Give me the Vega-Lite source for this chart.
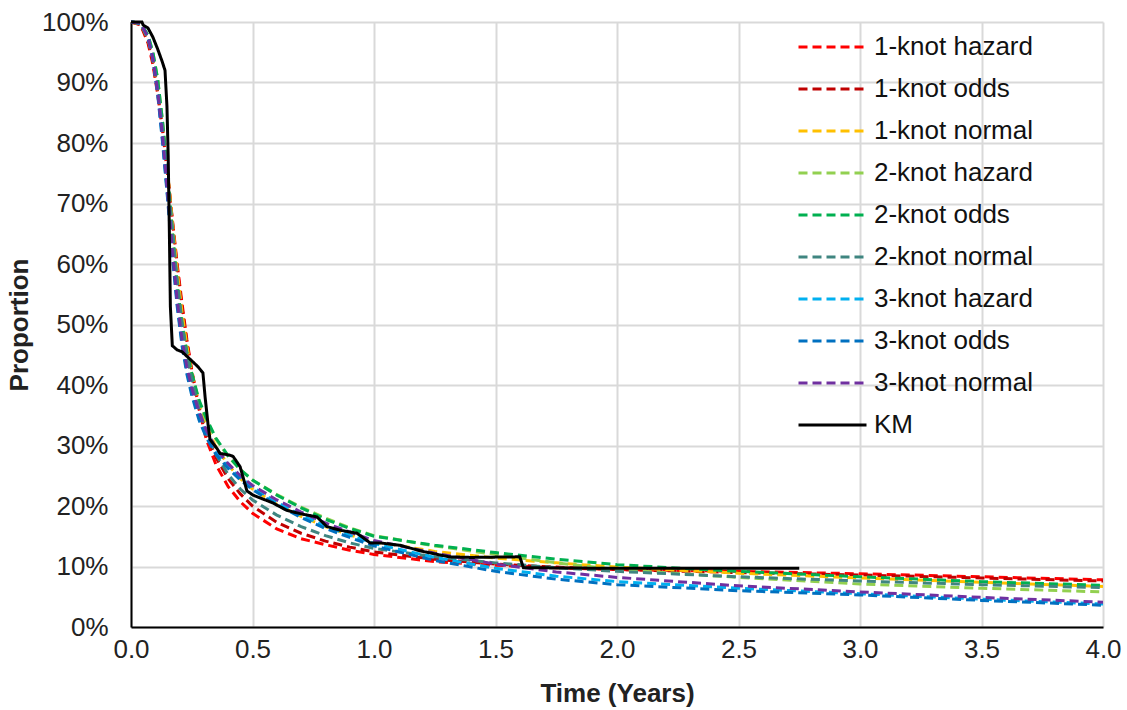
{
"$schema": "https://vega.github.io/schema/vega-lite/v6.json",
"width": 972, "height": 605,
"autosize": {"type": "none"},
"padding": {"left": 131, "top": 22, "right": 24, "bottom": 83},
"background": "white",
"config": {
  "view": {"stroke": null},
  "font": "Liberation Sans",
  "legend": {"orient": "none", "legendX": 666, "legendY": 10, "symbolType": "stroke", "symbolSize": 4624, "symbolStrokeWidth": 3, "labelFontSize": 26, "labelFont": "Liberation Sans", "labelColor": "#111111", "labelOffset": 6, "rowPadding": 12, "clipHeight": 30, "padding": 0, "labelLimit": 400}
},
"data": {"values": [
{"m":"1-knot hazard","t":0,"p":1.0},{"m":"1-knot hazard","t":0.04,"p":0.995},{"m":"1-knot hazard","t":0.07,"p":0.965},{"m":"1-knot hazard","t":0.09,"p":0.93},{"m":"1-knot hazard","t":0.11,"p":0.88},{"m":"1-knot hazard","t":0.13,"p":0.82},{"m":"1-knot hazard","t":0.15,"p":0.75},{"m":"1-knot hazard","t":0.17,"p":0.675},{"m":"1-knot hazard","t":0.19,"p":0.6},{"m":"1-knot hazard","t":0.21,"p":0.535},{"m":"1-knot hazard","t":0.23,"p":0.475},{"m":"1-knot hazard","t":0.25,"p":0.425},{"m":"1-knot hazard","t":0.28,"p":0.36},{"m":"1-knot hazard","t":0.31,"p":0.31},{"m":"1-knot hazard","t":0.35,"p":0.268},{"m":"1-knot hazard","t":0.4,"p":0.232},{"m":"1-knot hazard","t":0.45,"p":0.207},{"m":"1-knot hazard","t":0.5,"p":0.188},{"m":"1-knot hazard","t":0.6,"p":0.162},{"m":"1-knot hazard","t":0.7,"p":0.146},{"m":"1-knot hazard","t":0.8,"p":0.136},{"m":"1-knot hazard","t":0.9,"p":0.127},{"m":"1-knot hazard","t":1.0,"p":0.12},{"m":"1-knot hazard","t":1.25,"p":0.108},{"m":"1-knot hazard","t":1.5,"p":0.102},{"m":"1-knot hazard","t":1.75,"p":0.098},{"m":"1-knot hazard","t":2.0,"p":0.095},{"m":"1-knot hazard","t":2.5,"p":0.092},{"m":"1-knot hazard","t":3.0,"p":0.088},{"m":"1-knot hazard","t":3.5,"p":0.083},{"m":"1-knot hazard","t":4.0,"p":0.078},
{"m":"1-knot odds","t":0,"p":1.0},{"m":"1-knot odds","t":0.04,"p":0.996},{"m":"1-knot odds","t":0.07,"p":0.968},{"m":"1-knot odds","t":0.09,"p":0.935},{"m":"1-knot odds","t":0.11,"p":0.885},{"m":"1-knot odds","t":0.13,"p":0.825},{"m":"1-knot odds","t":0.15,"p":0.752},{"m":"1-knot odds","t":0.17,"p":0.672},{"m":"1-knot odds","t":0.19,"p":0.595},{"m":"1-knot odds","t":0.21,"p":0.528},{"m":"1-knot odds","t":0.23,"p":0.47},{"m":"1-knot odds","t":0.25,"p":0.422},{"m":"1-knot odds","t":0.28,"p":0.365},{"m":"1-knot odds","t":0.31,"p":0.32},{"m":"1-knot odds","t":0.35,"p":0.28},{"m":"1-knot odds","t":0.4,"p":0.245},{"m":"1-knot odds","t":0.45,"p":0.22},{"m":"1-knot odds","t":0.5,"p":0.2},{"m":"1-knot odds","t":0.6,"p":0.173},{"m":"1-knot odds","t":0.7,"p":0.155},{"m":"1-knot odds","t":0.8,"p":0.142},{"m":"1-knot odds","t":0.9,"p":0.132},{"m":"1-knot odds","t":1.0,"p":0.124},{"m":"1-knot odds","t":1.25,"p":0.112},{"m":"1-knot odds","t":1.5,"p":0.104},{"m":"1-knot odds","t":1.75,"p":0.099},{"m":"1-knot odds","t":2.0,"p":0.095},{"m":"1-knot odds","t":2.5,"p":0.09},{"m":"1-knot odds","t":3.0,"p":0.086},{"m":"1-knot odds","t":3.5,"p":0.081},{"m":"1-knot odds","t":4.0,"p":0.076},
{"m":"1-knot normal","t":0,"p":1.0},{"m":"1-knot normal","t":0.04,"p":0.997},{"m":"1-knot normal","t":0.07,"p":0.972},{"m":"1-knot normal","t":0.09,"p":0.94},{"m":"1-knot normal","t":0.11,"p":0.89},{"m":"1-knot normal","t":0.13,"p":0.83},{"m":"1-knot normal","t":0.15,"p":0.755},{"m":"1-knot normal","t":0.17,"p":0.67},{"m":"1-knot normal","t":0.19,"p":0.59},{"m":"1-knot normal","t":0.21,"p":0.52},{"m":"1-knot normal","t":0.23,"p":0.465},{"m":"1-knot normal","t":0.25,"p":0.42},{"m":"1-knot normal","t":0.28,"p":0.37},{"m":"1-knot normal","t":0.31,"p":0.332},{"m":"1-knot normal","t":0.35,"p":0.297},{"m":"1-knot normal","t":0.4,"p":0.268},{"m":"1-knot normal","t":0.45,"p":0.245},{"m":"1-knot normal","t":0.5,"p":0.228},{"m":"1-knot normal","t":0.6,"p":0.203},{"m":"1-knot normal","t":0.7,"p":0.183},{"m":"1-knot normal","t":0.8,"p":0.166},{"m":"1-knot normal","t":0.9,"p":0.152},{"m":"1-knot normal","t":1.0,"p":0.141},{"m":"1-knot normal","t":1.25,"p":0.125},{"m":"1-knot normal","t":1.5,"p":0.114},{"m":"1-knot normal","t":1.75,"p":0.106},{"m":"1-knot normal","t":2.0,"p":0.099},{"m":"1-knot normal","t":2.5,"p":0.089},{"m":"1-knot normal","t":3.0,"p":0.081},{"m":"1-knot normal","t":3.5,"p":0.074},{"m":"1-knot normal","t":4.0,"p":0.067},
{"m":"2-knot hazard","t":0,"p":1.0},{"m":"2-knot hazard","t":0.04,"p":0.998},{"m":"2-knot hazard","t":0.07,"p":0.978},{"m":"2-knot hazard","t":0.09,"p":0.95},{"m":"2-knot hazard","t":0.11,"p":0.905},{"m":"2-knot hazard","t":0.13,"p":0.835},{"m":"2-knot hazard","t":0.15,"p":0.75},{"m":"2-knot hazard","t":0.17,"p":0.655},{"m":"2-knot hazard","t":0.19,"p":0.568},{"m":"2-knot hazard","t":0.21,"p":0.5},{"m":"2-knot hazard","t":0.23,"p":0.452},{"m":"2-knot hazard","t":0.25,"p":0.418},{"m":"2-knot hazard","t":0.28,"p":0.373},{"m":"2-knot hazard","t":0.31,"p":0.343},{"m":"2-knot hazard","t":0.35,"p":0.31},{"m":"2-knot hazard","t":0.4,"p":0.282},{"m":"2-knot hazard","t":0.45,"p":0.26},{"m":"2-knot hazard","t":0.5,"p":0.243},{"m":"2-knot hazard","t":0.6,"p":0.219},{"m":"2-knot hazard","t":0.7,"p":0.198},{"m":"2-knot hazard","t":0.8,"p":0.18},{"m":"2-knot hazard","t":0.9,"p":0.164},{"m":"2-knot hazard","t":1.0,"p":0.151},{"m":"2-knot hazard","t":1.25,"p":0.134},{"m":"2-knot hazard","t":1.5,"p":0.12},{"m":"2-knot hazard","t":1.75,"p":0.106},{"m":"2-knot hazard","t":2.0,"p":0.095},{"m":"2-knot hazard","t":2.5,"p":0.082},{"m":"2-knot hazard","t":3.0,"p":0.071},{"m":"2-knot hazard","t":3.5,"p":0.064},{"m":"2-knot hazard","t":4.0,"p":0.058},
{"m":"2-knot odds","t":0,"p":1.0},{"m":"2-knot odds","t":0.04,"p":0.998},{"m":"2-knot odds","t":0.07,"p":0.978},{"m":"2-knot odds","t":0.09,"p":0.95},{"m":"2-knot odds","t":0.11,"p":0.905},{"m":"2-knot odds","t":0.13,"p":0.835},{"m":"2-knot odds","t":0.15,"p":0.75},{"m":"2-knot odds","t":0.17,"p":0.655},{"m":"2-knot odds","t":0.19,"p":0.565},{"m":"2-knot odds","t":0.21,"p":0.5},{"m":"2-knot odds","t":0.23,"p":0.455},{"m":"2-knot odds","t":0.25,"p":0.42},{"m":"2-knot odds","t":0.28,"p":0.375},{"m":"2-knot odds","t":0.31,"p":0.345},{"m":"2-knot odds","t":0.35,"p":0.312},{"m":"2-knot odds","t":0.4,"p":0.283},{"m":"2-knot odds","t":0.45,"p":0.26},{"m":"2-knot odds","t":0.5,"p":0.243},{"m":"2-knot odds","t":0.6,"p":0.218},{"m":"2-knot odds","t":0.7,"p":0.197},{"m":"2-knot odds","t":0.8,"p":0.178},{"m":"2-knot odds","t":0.9,"p":0.163},{"m":"2-knot odds","t":1.0,"p":0.15},{"m":"2-knot odds","t":1.25,"p":0.135},{"m":"2-knot odds","t":1.5,"p":0.123},{"m":"2-knot odds","t":1.75,"p":0.112},{"m":"2-knot odds","t":2.0,"p":0.103},{"m":"2-knot odds","t":2.5,"p":0.092},{"m":"2-knot odds","t":3.0,"p":0.083},{"m":"2-knot odds","t":3.5,"p":0.075},{"m":"2-knot odds","t":4.0,"p":0.069},
{"m":"2-knot normal","t":0,"p":1.0},{"m":"2-knot normal","t":0.04,"p":0.997},{"m":"2-knot normal","t":0.07,"p":0.972},{"m":"2-knot normal","t":0.09,"p":0.94},{"m":"2-knot normal","t":0.11,"p":0.89},{"m":"2-knot normal","t":0.13,"p":0.825},{"m":"2-knot normal","t":0.15,"p":0.745},{"m":"2-knot normal","t":0.17,"p":0.66},{"m":"2-knot normal","t":0.19,"p":0.575},{"m":"2-knot normal","t":0.21,"p":0.505},{"m":"2-knot normal","t":0.23,"p":0.45},{"m":"2-knot normal","t":0.25,"p":0.41},{"m":"2-knot normal","t":0.28,"p":0.36},{"m":"2-knot normal","t":0.31,"p":0.322},{"m":"2-knot normal","t":0.35,"p":0.285},{"m":"2-knot normal","t":0.4,"p":0.252},{"m":"2-knot normal","t":0.45,"p":0.228},{"m":"2-knot normal","t":0.5,"p":0.21},{"m":"2-knot normal","t":0.6,"p":0.185},{"m":"2-knot normal","t":0.7,"p":0.166},{"m":"2-knot normal","t":0.8,"p":0.151},{"m":"2-knot normal","t":0.9,"p":0.139},{"m":"2-knot normal","t":1.0,"p":0.13},{"m":"2-knot normal","t":1.25,"p":0.116},{"m":"2-knot normal","t":1.5,"p":0.106},{"m":"2-knot normal","t":1.75,"p":0.098},{"m":"2-knot normal","t":2.0,"p":0.092},{"m":"2-knot normal","t":2.5,"p":0.083},{"m":"2-knot normal","t":3.0,"p":0.076},{"m":"2-knot normal","t":3.5,"p":0.07},{"m":"2-knot normal","t":4.0,"p":0.065},
{"m":"3-knot hazard","t":0,"p":1.0},{"m":"3-knot hazard","t":0.04,"p":0.998},{"m":"3-knot hazard","t":0.07,"p":0.975},{"m":"3-knot hazard","t":0.09,"p":0.94},{"m":"3-knot hazard","t":0.11,"p":0.882},{"m":"3-knot hazard","t":0.13,"p":0.805},{"m":"3-knot hazard","t":0.15,"p":0.715},{"m":"3-knot hazard","t":0.17,"p":0.62},{"m":"3-knot hazard","t":0.19,"p":0.535},{"m":"3-knot hazard","t":0.21,"p":0.47},{"m":"3-knot hazard","t":0.23,"p":0.424},{"m":"3-knot hazard","t":0.25,"p":0.389},{"m":"3-knot hazard","t":0.28,"p":0.348},{"m":"3-knot hazard","t":0.31,"p":0.319},{"m":"3-knot hazard","t":0.35,"p":0.29},{"m":"3-knot hazard","t":0.4,"p":0.266},{"m":"3-knot hazard","t":0.45,"p":0.247},{"m":"3-knot hazard","t":0.5,"p":0.231},{"m":"3-knot hazard","t":0.6,"p":0.206},{"m":"3-knot hazard","t":0.7,"p":0.185},{"m":"3-knot hazard","t":0.8,"p":0.167},{"m":"3-knot hazard","t":0.9,"p":0.152},{"m":"3-knot hazard","t":1.0,"p":0.138},{"m":"3-knot hazard","t":1.25,"p":0.115},{"m":"3-knot hazard","t":1.5,"p":0.097},{"m":"3-knot hazard","t":1.75,"p":0.084},{"m":"3-knot hazard","t":2.0,"p":0.075},{"m":"3-knot hazard","t":2.5,"p":0.064},{"m":"3-knot hazard","t":3.0,"p":0.055},{"m":"3-knot hazard","t":3.5,"p":0.046},{"m":"3-knot hazard","t":4.0,"p":0.038},
{"m":"3-knot odds","t":0,"p":1.0},{"m":"3-knot odds","t":0.04,"p":0.998},{"m":"3-knot odds","t":0.07,"p":0.975},{"m":"3-knot odds","t":0.09,"p":0.94},{"m":"3-knot odds","t":0.11,"p":0.88},{"m":"3-knot odds","t":0.13,"p":0.8},{"m":"3-knot odds","t":0.15,"p":0.71},{"m":"3-knot odds","t":0.17,"p":0.615},{"m":"3-knot odds","t":0.19,"p":0.53},{"m":"3-knot odds","t":0.21,"p":0.465},{"m":"3-knot odds","t":0.23,"p":0.418},{"m":"3-knot odds","t":0.25,"p":0.383},{"m":"3-knot odds","t":0.28,"p":0.342},{"m":"3-knot odds","t":0.31,"p":0.313},{"m":"3-knot odds","t":0.35,"p":0.285},{"m":"3-knot odds","t":0.4,"p":0.262},{"m":"3-knot odds","t":0.45,"p":0.243},{"m":"3-knot odds","t":0.5,"p":0.227},{"m":"3-knot odds","t":0.6,"p":0.202},{"m":"3-knot odds","t":0.7,"p":0.181},{"m":"3-knot odds","t":0.8,"p":0.163},{"m":"3-knot odds","t":0.9,"p":0.148},{"m":"3-knot odds","t":1.0,"p":0.134},{"m":"3-knot odds","t":1.25,"p":0.11},{"m":"3-knot odds","t":1.5,"p":0.092},{"m":"3-knot odds","t":1.75,"p":0.079},{"m":"3-knot odds","t":2.0,"p":0.07},{"m":"3-knot odds","t":2.5,"p":0.06},{"m":"3-knot odds","t":3.0,"p":0.053},{"m":"3-knot odds","t":3.5,"p":0.044},{"m":"3-knot odds","t":4.0,"p":0.036},
{"m":"3-knot normal","t":0,"p":1.0},{"m":"3-knot normal","t":0.04,"p":0.998},{"m":"3-knot normal","t":0.07,"p":0.975},{"m":"3-knot normal","t":0.09,"p":0.94},{"m":"3-knot normal","t":0.11,"p":0.885},{"m":"3-knot normal","t":0.13,"p":0.81},{"m":"3-knot normal","t":0.15,"p":0.72},{"m":"3-knot normal","t":0.17,"p":0.625},{"m":"3-knot normal","t":0.19,"p":0.54},{"m":"3-knot normal","t":0.21,"p":0.475},{"m":"3-knot normal","t":0.23,"p":0.43},{"m":"3-knot normal","t":0.25,"p":0.395},{"m":"3-knot normal","t":0.28,"p":0.355},{"m":"3-knot normal","t":0.31,"p":0.325},{"m":"3-knot normal","t":0.35,"p":0.295},{"m":"3-knot normal","t":0.4,"p":0.27},{"m":"3-knot normal","t":0.45,"p":0.25},{"m":"3-knot normal","t":0.5,"p":0.234},{"m":"3-knot normal","t":0.6,"p":0.21},{"m":"3-knot normal","t":0.7,"p":0.19},{"m":"3-knot normal","t":0.8,"p":0.172},{"m":"3-knot normal","t":0.9,"p":0.157},{"m":"3-knot normal","t":1.0,"p":0.143},{"m":"3-knot normal","t":1.25,"p":0.122},{"m":"3-knot normal","t":1.5,"p":0.104},{"m":"3-knot normal","t":1.75,"p":0.091},{"m":"3-knot normal","t":2.0,"p":0.082},{"m":"3-knot normal","t":2.5,"p":0.068},{"m":"3-knot normal","t":3.0,"p":0.058},{"m":"3-knot normal","t":3.5,"p":0.049},{"m":"3-knot normal","t":4.0,"p":0.041},
{"m":"KM","t":0,"p":1.0},{"m":"KM","t":0.045,"p":1.0},{"m":"KM","t":0.05,"p":0.995},{"m":"KM","t":0.07,"p":0.99},{"m":"KM","t":0.09,"p":0.975},{"m":"KM","t":0.11,"p":0.955},{"m":"KM","t":0.128,"p":0.935},{"m":"KM","t":0.14,"p":0.92},{"m":"KM","t":0.148,"p":0.86},{"m":"KM","t":0.153,"p":0.78},{"m":"KM","t":0.158,"p":0.65},{"m":"KM","t":0.162,"p":0.53},{"m":"KM","t":0.17,"p":0.465},{"m":"KM","t":0.19,"p":0.458},{"m":"KM","t":0.21,"p":0.455},{"m":"KM","t":0.25,"p":0.44},{"m":"KM","t":0.276,"p":0.43},{"m":"KM","t":0.296,"p":0.42},{"m":"KM","t":0.305,"p":0.38},{"m":"KM","t":0.317,"p":0.335},{"m":"KM","t":0.325,"p":0.31},{"m":"KM","t":0.354,"p":0.295},{"m":"KM","t":0.366,"p":0.287},{"m":"KM","t":0.407,"p":0.284},{"m":"KM","t":0.42,"p":0.282},{"m":"KM","t":0.449,"p":0.265},{"m":"KM","t":0.477,"p":0.225},{"m":"KM","t":0.502,"p":0.218},{"m":"KM","t":0.584,"p":0.205},{"m":"KM","t":0.64,"p":0.193},{"m":"KM","t":0.7,"p":0.187},{"m":"KM","t":0.765,"p":0.182},{"m":"KM","t":0.806,"p":0.166},{"m":"KM","t":0.86,"p":0.16},{"m":"KM","t":0.93,"p":0.155},{"m":"KM","t":0.984,"p":0.139},{"m":"KM","t":1.025,"p":0.139},{"m":"KM","t":1.107,"p":0.135},{"m":"KM","t":1.2,"p":0.125},{"m":"KM","t":1.31,"p":0.116},{"m":"KM","t":1.4,"p":0.115},{"m":"KM","t":1.6,"p":0.116},{"m":"KM","t":1.615,"p":0.098},{"m":"KM","t":2.0,"p":0.097},{"m":"KM","t":2.75,"p":0.097}
]},
"mark": {"type": "line", "strokeWidth": 3, "interpolate": "linear"},
"encoding": {
  "x": {"field": "t", "type": "quantitative", "scale": {"domain": [0, 4], "nice": false, "zero": true},
    "axis": {"title": "Time (Years)", "values": [0, 0.5, 1, 1.5, 2, 2.5, 3, 3.5, 4], "format": ".1f", "labelFontSize": 26, "labelFont": "Liberation Sans", "titleFont": "Liberation Sans", "titleFontSize": 26, "titleFontWeight": "bold", "domainColor": "#000000", "domainWidth": 2, "ticks": false, "tickSize": 0, "labelPadding": 9, "titlePadding": 18, "grid": true, "gridColor": "#d9d9d9", "gridWidth": 2, "labelColor": "#222222", "titleColor": "#222222", "labelFlush": false, "labelOverlap": false}},
  "y": {"field": "p", "type": "quantitative", "scale": {"domain": [0, 1], "nice": false},
    "axis": {"title": "Proportion", "values": [0, 0.1, 0.2, 0.3, 0.4, 0.5, 0.6, 0.7, 0.8, 0.9, 1], "format": ".0%", "labelFontSize": 26, "labelFont": "Liberation Sans", "titleFont": "Liberation Sans", "titleFontSize": 26, "titleFontWeight": "bold", "domainColor": "#000000", "domainWidth": 2, "ticks": false, "tickSize": 0, "labelPadding": 23, "titlePadding": 9, "grid": true, "gridColor": "#d9d9d9", "gridWidth": 2, "labelColor": "#222222", "titleColor": "#222222", "labelFlush": false, "labelOverlap": false}},
  "color": {"field": "m", "type": "nominal",
    "scale": {"domain": ["1-knot hazard", "1-knot odds", "1-knot normal", "2-knot hazard", "2-knot odds", "2-knot normal", "3-knot hazard", "3-knot odds", "3-knot normal", "KM"],
              "range": ["#FF0000", "#C00000", "#FFC000", "#92D050", "#00B050", "#3F8580", "#00B0F0", "#0070C0", "#7030A0", "#000000"]},
    "legend": {"title": null}},
  "strokeDash": {"field": "m", "type": "nominal",
    "scale": {"domain": ["1-knot hazard", "1-knot odds", "1-knot normal", "2-knot hazard", "2-knot odds", "2-knot normal", "3-knot hazard", "3-knot odds", "3-knot normal", "KM"],
              "range": [[9, 5], [9, 5], [9, 5], [9, 5], [9, 5], [9, 5], [9, 5], [9, 5], [9, 5], [1, 0]]},
    "legend": {"title": null}}
}
}
